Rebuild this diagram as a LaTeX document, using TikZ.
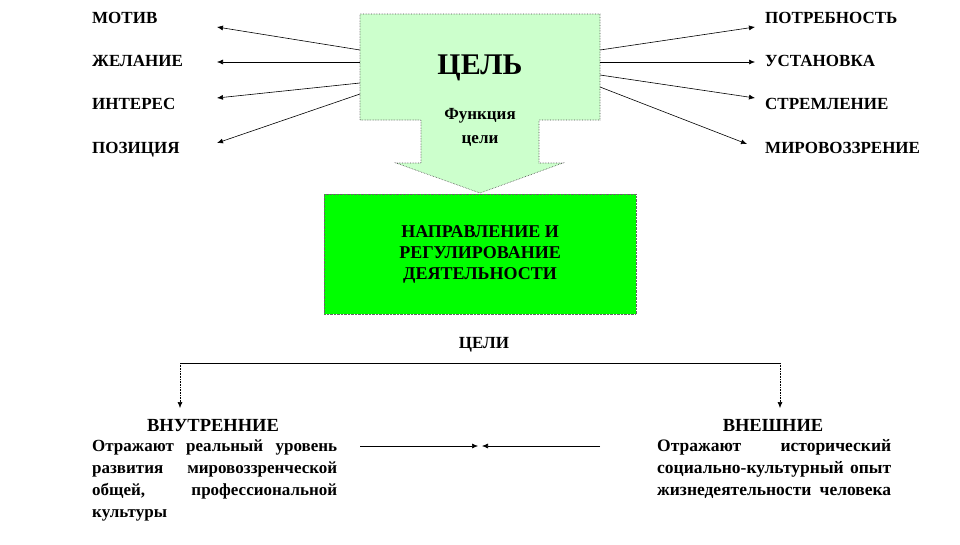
\documentclass[tikz,border=0pt]{standalone}
\usepackage{fontspec}
\setmainfont{Liberation Serif}
\usetikzlibrary{arrows.meta, positioning}
\definecolor{palegreen}{HTML}{CCFFCC}
\definecolor{brightgreen}{HTML}{00FF00}
\newcommand{\jline}[2]{\leavevmode\hbox to #1{#2}}

\begin{document}
\begin{tikzpicture}[x=1pt, y=-1pt,
    lbl/.style={font=\fontsize{17}{19}\selectfont\bfseries, inner sep=0pt, anchor=base west},
    arr/.style={-{Latex[length=6pt,width=5pt]}, line width=0.6pt},
    body/.style={font=\fontsize{17}{22}\selectfont\bfseries, inner sep=0pt, anchor=base west}]
    \useasboundingbox (0,0) rectangle (960,544);
    % big arrow "goal"
    \draw[fill=palegreen, draw=black!70, densely dotted, line width=0.6pt]
        (360,14) -- (600,14) -- (600,120) -- (539,120) -- (539,163) -- (563,163)
        -- (480,193) -- (396,163) -- (421,163) -- (421,120) -- (360,120) -- cycle;
    \node[font=\fontsize{30}{32}\selectfont\bfseries, anchor=base] (goal) at (480,74) {ЦЕЛЬ};
    \node[lbl, anchor=center, align=center, font=\fontsize{17}{24}\selectfont\bfseries] (func) at (480,127) {Функция\\цели};
    % green box
    \node[fill=brightgreen, draw=black!60, densely dotted, minimum width=312pt, minimum height=120pt,
        align=center, font=\fontsize{18}{21}\selectfont\bfseries] (act) at (480,254)
        {НАПРАВЛЕНИЕ И\\РЕГУЛИРОВАНИЕ\\ДЕЯТЕЛЬНОСТИ};
    % left labels
    \node[lbl] (motive) at (92,23) {МОТИВ};
    \node[lbl] (wish) at (92,66) {ЖЕЛАНИЕ};
    \node[lbl] (interest) at (92,109) {ИНТЕРЕС};
    \node[lbl] (position) at (92,153) {ПОЗИЦИЯ};
    % right labels
    \node[lbl] (need) at (765,23) {ПОТРЕБНОСТЬ};
    \node[lbl] (attitude) at (765,66) {УСТАНОВКА};
    \node[lbl] (striving) at (765,109) {СТРЕМЛЕНИЕ};
    \node[lbl] (worldview) at (765,153) {МИРОВОЗЗРЕНИЕ};
    % arrows out of the goal
    \coordinate (gl1) at (360,50); \coordinate (gl2) at (360,62);
    \coordinate (gl3) at (360,83); \coordinate (gl4) at (360,94);
    \coordinate (gr1) at (600,50); \coordinate (gr2) at (600,62);
    \coordinate (gr3) at (600,75); \coordinate (gr4) at (600,87);
    \coordinate (tl1) at (217,27); \coordinate (tl2) at (217,62);
    \coordinate (tl3) at (217,98); \coordinate (tl4) at (217,143);
    \coordinate (tr1) at (755,27); \coordinate (tr2) at (755,62);
    \coordinate (tr3) at (755,98); \coordinate (tr4) at (747,144);
    \foreach \i in {1,...,4} {
        \draw[arr] (gl\i) -- (tl\i);
        \draw[arr] (gr\i) -- (tr\i);
    }
    % goals split
    \node[lbl, anchor=base] (goals) at (484,348) {ЦЕЛИ};
    \coordinate (bl) at (180,363); \coordinate (br) at (780,363);
    \coordinate (bla) at (180,408); \coordinate (bra) at (780,408);
    \draw[line width=0.6pt] (bl) -- (br);
    \draw[arr, densely dotted] (bl) -- (bla);
    \draw[arr, densely dotted] (br) -- (bra);
    \node[lbl, anchor=base, font=\fontsize{18.5}{20}\selectfont\bfseries] (inner) at (213,431) {ВНУТРЕННИЕ};
    \node[lbl, anchor=base, font=\fontsize{18.5}{20}\selectfont\bfseries] (outer) at (773,431) {ВНЕШНИЕ};
    \node[body, text width=245pt] (innertxt) at (92,451)
        {\jline{245pt}{Отражают\hfill реальный\hfill уровень}\\
         \jline{245pt}{развития\hfill мировоззренческой}\\
         \jline{245pt}{общей,\hfill профессиональной}\\
         культуры};
    \node[body, text width=234pt, font=\fontsize{17.5}{22}\selectfont\bfseries] (outertxt) at (657,451)
        {\jline{234pt}{Отражают\hfill исторический}\\
         \jline{234pt}{социально-культурный\hfill опыт}\\
         \jline{234pt}{жизнедеятельности\hfill человека}};
    % mutual arrows
    \coordinate (ml) at (360,446); \coordinate (mr) at (600,446);
    \coordinate (mc1) at (478,446); \coordinate (mc2) at (482,446);
    \draw[arr] (ml) -- (mc1);
    \draw[arr] (mr) -- (mc2);
\end{tikzpicture}
\end{document}
